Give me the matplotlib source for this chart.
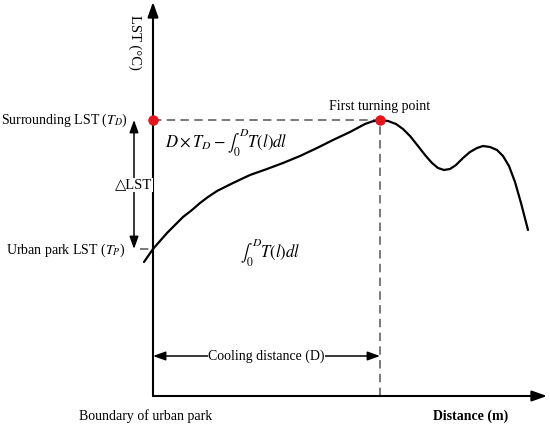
import numpy as np
import matplotlib
matplotlib.use("Agg")
from matplotlib import pyplot as plt

plt.rcParams['font.family'] = ['Liberation Serif', 'DejaVu Serif']
plt.rcParams['mathtext.fontset'] = 'stix'

# curve (distance from park boundary, LST in arbitrary units)
distance = [-9, 0, 7, 14, 22, 30, 39, 47, 55, 64, 80, 97, 114, 130, 147, 164, 180, 197,
            212, 219, 227, 235, 243, 250, 257, 265, 272, 279, 285, 291, 297, 303, 310,
            317, 324, 330, 337, 344, 350, 356, 362, 368, 375]
lst = [134, 147, 155, 163, 171, 179, 186, 193, 199, 205, 213, 221, 227, 233, 240, 248, 256, 264,
       272, 274.5, 276, 275, 272, 267, 260, 250, 241, 233, 228, 226, 227, 231, 238,
       244, 248, 250, 249, 246, 240, 230, 214, 193, 166]

T_D = 276      # surrounding LST
T_P = 147      # urban park LST
D = 227        # cooling distance (first turning point)

fig = plt.figure(figsize=(5.5, 4.25), dpi=100)
ax = fig.add_axes([0, 0, 1, 1])
ax.set_xlim(-153, 397)
ax.set_ylim(-29, 396)
ax.axis("off")

# axes with arrows
head = "-|>,head_length=0.9,head_width=0.32"
ax.annotate("", xy=(394, 0), xytext=(0, 0),
            arrowprops=dict(arrowstyle=head, lw=1.5, color="black", shrinkA=0, shrinkB=0))
ax.annotate("", xy=(0, 394), xytext=(0, 0),
            arrowprops=dict(arrowstyle=head, lw=1.5, color="black", shrinkA=0, shrinkB=0))

# dashed guides
dash = dict(color="#555555", lw=1.1, linestyle=(0, (5.5, 3.5)))
ax.plot([0, D], [T_D, T_D], **dash)
ax.plot([D, D], [0, T_D], **dash)
ax.plot([-13, 0], [T_P, T_P], **dash)

# curve
ax.plot(distance, lst, color="black", lw=1.6, solid_capstyle="round", solid_joinstyle="round")

# red points
ax.plot([0, D], [T_D, T_D], "o", color="#e8141c", ms=6.5, zorder=5)

# delta LST arrow
both = "<|-|>,head_length=0.75,head_width=0.27"
ax.annotate("", xy=(-19, T_D), xytext=(-19, T_P),
            arrowprops=dict(arrowstyle=both, lw=1.1, color="black", shrinkA=0, shrinkB=0))
ax.text(-19, 211, "△LST", ha="center", va="center", fontsize=10.5,
        bbox=dict(facecolor="white", edgecolor="none", pad=0.5))

# cooling distance arrow
ax.annotate("", xy=(D, 40), xytext=(0, 40),
            arrowprops=dict(arrowstyle=both, lw=1.1, color="black", shrinkA=0, shrinkB=0))
ax.text(D / 2, 40, "Cooling distance (D)", ha="center", va="center", fontsize=10,
        bbox=dict(facecolor="white", edgecolor="none", pad=0.3))

# labels
ax.text(-18, 354, "LST (°C)", rotation=270, ha="center", va="center", fontsize=10.5)
ax.text(-25, T_D, "Surrounding LST ($T_D$)", ha="right", va="center", fontsize=10)
ax.text(-28, T_P - 1, "Urban park LST ($T_P$)", ha="right", va="center", fontsize=10)
ax.text(D, 290, "First turning point", ha="center", va="center", fontsize=10)
ax.text(12, 253, r"$D \times T_D - \int_0^D T(l)dl$", ha="left", va="center", fontsize=12)
ax.text(87, 143, r"$\int_0^D T(l)dl$", ha="left", va="center", fontsize=12)
ax.text(-7, -20, "Boundary of urban park", ha="center", va="center", fontsize=10)
ax.text(355, -20, "Distance (m)", ha="right", va="center", fontsize=10, fontweight="bold")

fig.savefig("out.png", dpi=100)
